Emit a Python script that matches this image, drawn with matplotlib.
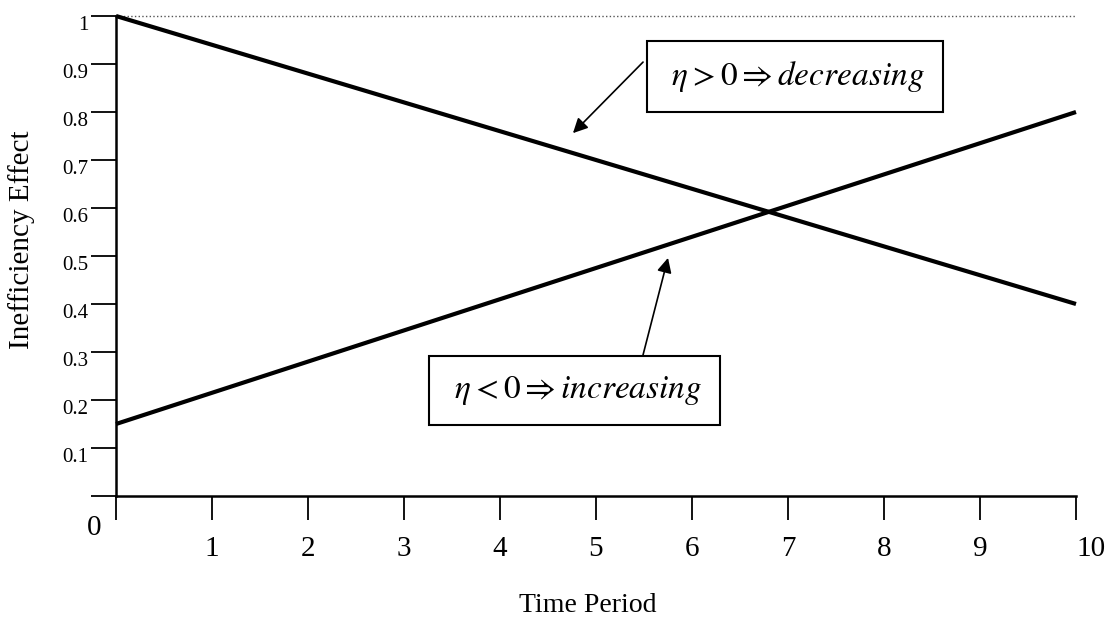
import matplotlib
matplotlib.use('Agg')
import matplotlib.pyplot as plt

plt.rcParams['font.family'] = ['Liberation Serif', 'DejaVu Serif']
plt.rcParams['mathtext.fontset'] = 'stix'

# time periods and the two inefficiency paths
periods = [0, 10]
decreasing = [1.0, 0.4]
increasing = [0.15, 0.8]

xticks = list(range(0, 11))
yticks = [0, 0.1, 0.2, 0.3, 0.4, 0.5, 0.6, 0.7, 0.8, 0.9, 1.0]
ytick_labels = ['', '0.1', '0.2', '0.3', '0.4', '0.5', '0.6', '0.7', '0.8', '0.9', '1']
xtick_labels = [''] + [str(i) for i in range(1, 11)]

fig = plt.figure(figsize=(11.06, 6.21), dpi=100)
ax = fig.add_axes([116 / 1106, 1 - 496 / 621, 960 / 1106, 480 / 621])

ax.plot([0, 10], [1, 1], color='#555555', lw=1, ls=':', clip_on=False)
ax.plot(periods, decreasing, color='black', lw=3, solid_capstyle='butt', clip_on=False)
ax.plot(periods, increasing, color='black', lw=3, solid_capstyle='butt', clip_on=False)

ax.set_xlim(0, 10)
ax.set_ylim(0, 1)
for s in ['top', 'right']:
    ax.spines[s].set_visible(False)
for s in ['left', 'bottom']:
    ax.spines[s].set_linewidth(1.8)

ax.set_xticks(xticks)
ax.set_xticklabels(xtick_labels, fontsize=21)
ax.set_yticks(yticks)
ax.set_yticklabels(ytick_labels, fontsize=15)
ax.tick_params(axis='x', direction='out', length=17, width=1.3, pad=12)
ax.tick_params(axis='y', direction='out', length=18, width=1.3, pad=2)
for lab in ax.get_yticklabels():
    lab.set_va('top')
ax.get_xticklabels()[-1].set_ha('left')

ax.annotate('0', xy=(0, 0), xytext=(-16, -23), textcoords='offset points',
            ha='center', va='center', fontsize=21)

fig.text(22 / 1106, 1 - 240 / 621, 'Inefficiency Effect', rotation=90,
         ha='center', va='center', fontsize=21)
fig.text(588 / 1106, 1 - 605 / 621, 'Time Period', ha='center', va='center', fontsize=20)

# annotation boxes with arrows
ax.annotate('', xy=(4.76, 0.756), xytext=(5.49, 0.904),
            arrowprops=dict(arrowstyle='-|>', color='black', lw=1.2, mutation_scale=22,
                            shrinkA=0, shrinkB=0))
ax.annotate('', xy=(5.75, 0.496), xytext=(5.49, 0.294),
            arrowprops=dict(arrowstyle='-|>', color='black', lw=1.2, mutation_scale=22,
                            shrinkA=0, shrinkB=0))

ax.text(7.07, 0.874, r'$\;\eta > 0 \Rightarrow decreasing\;$', ha='center', va='center',
        fontsize=24, bbox=dict(boxstyle='square,pad=0.55', fc='white', ec='black', lw=1.5))
ax.text(4.78, 0.22, r'$\;\eta < 0 \Rightarrow increasing\;$', ha='center', va='center',
        fontsize=24, bbox=dict(boxstyle='square,pad=0.55', fc='white', ec='black', lw=1.5))

fig.savefig('out.png', dpi=100)
